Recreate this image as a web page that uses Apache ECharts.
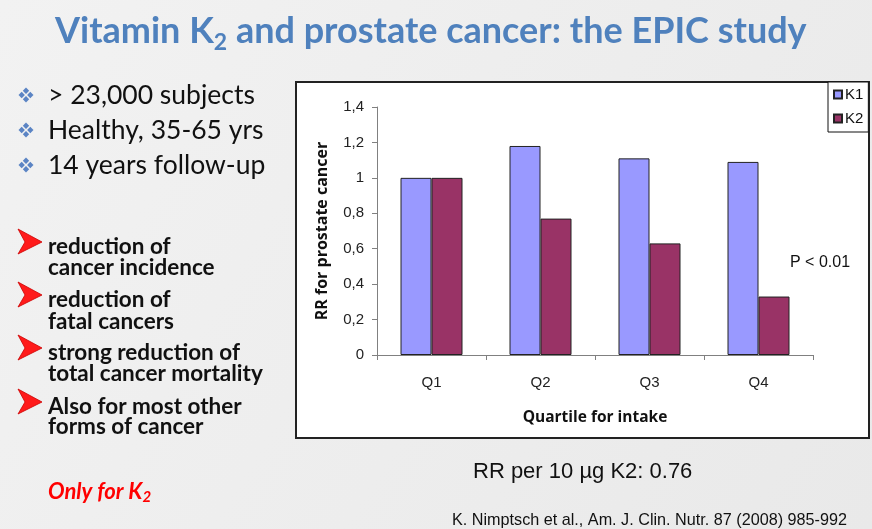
<!DOCTYPE html>
<html>
<head>
<meta charset="utf-8">
<script src="https://cdn.jsdelivr.net/npm/echarts@6/dist/echarts.min.js"></script>
<style>
html,body{margin:0;padding:0;background:#eeeeee;}
#c{width:872px;height:529px;}
</style>
</head>
<body>
<div id="c"></div>
<script>
const categories = ['Q1', 'Q2', 'Q3', 'Q4'];
const seriesNames = ['K1', 'K2'];
const k1Values = [1.00, 1.18, 1.11, 1.09];
const k2Values = [1.00, 0.77, 0.63, 0.33];
const yMin = 0, yMax = 1.4, yStep = 0.2;
const titleParts = ['Vitamin K', '2', ' and prostate cancer: the EPIC study'];
const bullets = ['> 23,000 subjects', 'Healthy, 35-65 yrs', '14 years follow-up'];
const findings = [
  ['reduction of', 'cancer incidence'],
  ['reduction of', 'fatal cancers'],
  ['strong reduction of', 'total cancer mortality'],
  ['Also for most other', 'forms of cancer']
];
const yAxisName = 'RR for prostate cancer';
const xAxisName = 'Quartile for intake';
const pNote = 'P < 0.01';
const rrNote = 'RR per 10 µg K2: 0.76';
const citation = 'K. Nimptsch et al., Am. J. Clin. Nutr. 87 (2008) 985-992';

const chart = echarts.init(document.getElementById('c'));

const graphics = [];
// chart box
graphics.push({type:'rect', z:-10, shape:{x:296,y:82,width:573,height:356},
  style:{fill:'#ffffff', stroke:'#222', lineWidth:2}});
// blue bullets
const bulletY = [95, 130, 165];
bullets.forEach((t,i)=>{
  const cy = bulletY[i], cx = 26, d = 4.3, r = 3.2;
  [[0,-d],[d,0],[0,d],[-d,0]].forEach(([dx,dy])=>{
    graphics.push({type:'polygon', shape:{points:[[cx+dx,cy+dy-r],[cx+dx+r,cy+dy],[cx+dx,cy+dy+r],[cx+dx-r,cy+dy]]},
      style:{fill:'#5b84c4'}});
  });
  graphics.push({type:'text', style:{text:t, x:48, y:cy, font:'26.5px Lato', fill:'#111', textVerticalAlign:'middle'}});
});
// red arrows + findings
const findY = [[247,268],[300,322],[353,374],[407,427]];
findings.forEach((lines,i)=>{
  const y0 = findY[i][0];
  graphics.push({type:'polygon', shape:{points:[[18,y0-18],[42,y0-5],[18,y0+7],[25,y0-5]]},
    style:{fill:'#ff1a1a', stroke:'#cc0000', lineWidth:0.8}});
  lines.forEach((l,j)=>{
    graphics.push({type:'text', style:{text:l, x:48, y:findY[i][j], font:'bold 22.5px Lato', fill:'#111', textVerticalAlign:'middle'}});
  });
});
// Only for K2
graphics.push({type:'text', style:{
  text:'{a|Only for K}{s|2}', x:48, y:492, textVerticalAlign:'middle',
  rich:{a:{font:'italic bold 22px Lato', fill:'#ff0000', verticalAlign:'middle'},
        s:{font:'italic bold 15px Lato', fill:'#ff0000', verticalAlign:'bottom', padding:[10,0,0,0]}}
}});
graphics.push({type:'text', style:{text:pNote, x:790, y:263, font:'16px "Liberation Sans"', fill:'#111', textVerticalAlign:'middle'}});
graphics.push({type:'text', style:{text:rrNote, x:473, y:472, font:'22px "Liberation Sans"', fill:'#111', textVerticalAlign:'middle'}});
graphics.push({type:'text', style:{text:citation, x:452, y:521, font:'16.2px "Liberation Sans"', fill:'#111', textVerticalAlign:'middle'}});

const option = {
  backgroundColor: {type:'linear', x:0, y:0, x2:1, y2:1, colorStops:[{offset:0,color:'#f2f2f2'},{offset:1,color:'#e9e9e9'}]},
  animation: false,
  title: {
    text: '{a|' + titleParts[0] + '}{s|' + titleParts[1] + '}{a|' + titleParts[2] + '}',
    left: 50, top: 4,
    textStyle: {
      rich: {
        a: {fontFamily:'Lato', fontWeight:'bold', fontSize:36, color:'#4f81bd', verticalAlign:'middle'},
        s: {fontFamily:'Lato', fontWeight:'bold', fontSize:23, color:'#4f81bd', verticalAlign:'bottom', padding:[22,0,0,0]}
      }
    }
  },
  legend: {
    data: seriesNames, orient:'vertical', left: 828, top: 82,
    itemWidth: 8, itemHeight: 8, itemGap: 9, icon: 'rect',
    padding: [5,5,6,5],
    backgroundColor:'#fff', borderColor:'#111', borderWidth:1, borderRadius:0,
    textStyle: {fontFamily:'Liberation Sans', fontSize:15, color:'#111', padding:[0,0,0,-2]}
  },
  grid: {left: 377, top: 107, right: 59, bottom: 174, containLabel: false},
  xAxis: {
    type:'category', data: categories,
    name: xAxisName, nameLocation:'middle', nameGap: 55,
    nameTextStyle: {fontFamily:'Open Sans', fontWeight:'bold', fontSize:15.5, color:'#111'},
    axisLine: {lineStyle:{color:'#808080', width:1}},
    axisTick: {show:true, length:5, lineStyle:{color:'#808080'}},
    axisLabel: {fontFamily:'Liberation Sans', fontSize:15, color:'#222', margin:20}
  },
  yAxis: {
    type:'value', min: yMin, max: yMax, interval: yStep,
    name: yAxisName, nameLocation:'middle', nameGap: 47,
    nameTextStyle: {fontFamily:'Open Sans', fontWeight:'bold', fontSize:16, color:'#111'},
    axisLine: {show:true, lineStyle:{color:'#808080', width:1}},
    axisTick: {show:true, length:5, lineStyle:{color:'#808080'}},
    splitLine: {show:false},
    axisLabel: {fontFamily:'Liberation Sans', fontSize:15, color:'#222', margin:13,
      formatter: v => (Math.round(v*10)/10).toString().replace('.', ',')}
  },
  series: [
    {name: seriesNames[0], type:'bar', data: k1Values, barWidth: 31, barGap: '0%',
     itemStyle:{color:'#9999ff', borderColor:'#222', borderWidth:1}},
    {name: seriesNames[1], type:'bar', data: k2Values, barWidth: 31, barGap: '0%',
     itemStyle:{color:'#993366', borderColor:'#222', borderWidth:1}}
  ],
  graphic: graphics
};
chart.setOption(option);
</script>
</body>
</html>
